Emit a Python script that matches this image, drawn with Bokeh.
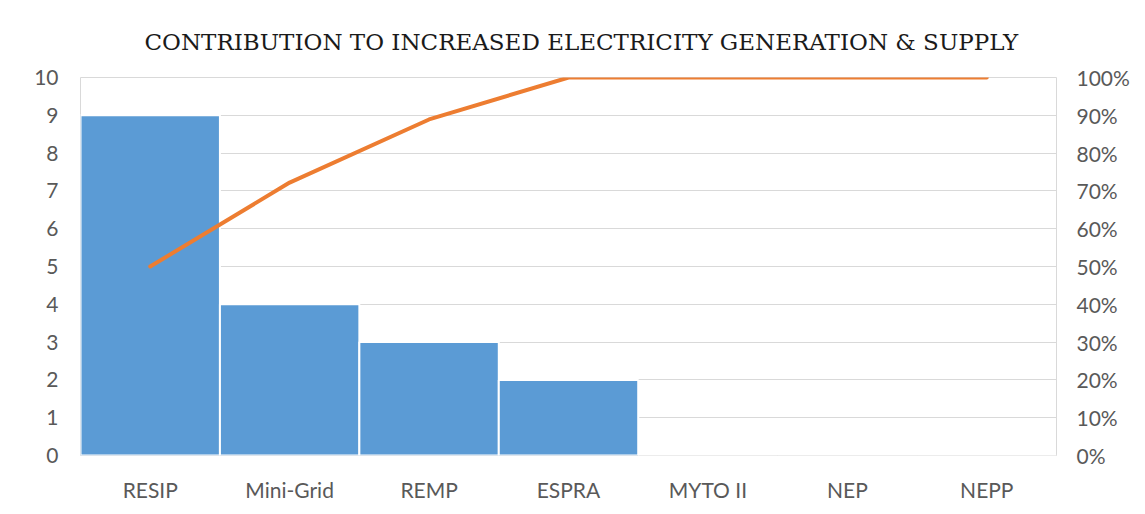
from bokeh.plotting import figure
from bokeh.models import Range1d, LinearAxis, FixedTicker, NumeralTickFormatter, ColumnDataSource
from bokeh.embed import file_html
from bokeh.resources import INLINE

categories = ["RESIP", "Mini-Grid", "REMP", "ESPRA", "MYTO II", "NEP", "NEPP"]
counts = [9, 4, 3, 2, 0, 0, 0]
cumulative_pct = [0.50, 0.722, 0.889, 1.0, 1.0, 1.0, 1.0]
left_ticks = [0, 1, 2, 3, 4, 5, 6, 7, 8, 9, 10]
right_ticks = [0, 0.1, 0.2, 0.3, 0.4, 0.5, 0.6, 0.7, 0.8, 0.9, 1.0]

src = ColumnDataSource(dict(cat=categories, cnt=counts, pct=cumulative_pct))

p = figure(width=1145, height=514, x_range=categories, y_range=Range1d(0, 10),
           output_backend="svg", toolbar_location=None,
           min_border_left=80, min_border_right=89, min_border_top=77, min_border_bottom=59)
p.extra_y_ranges = {"pct": Range1d(0, 1)}

p.title.text = "CONTRIBUTION TO INCREASED ELECTRICITY GENERATION & SUPPLY"
p.title.align = "left"
p.title.offset = 64
p.title.text_font = "DejaVu Serif"
p.title.text_font_size = "23px"
p.title.text_font_style = "normal"
p.title.text_color = "#1a1a1a"
p.title.standoff = 45

p.vbar(x="cat", top="cnt", width=1.0, source=src, fill_color="#5B9BD5",
       line_color="white", line_width=2)
p.line(x="cat", y="pct", source=src, y_range_name="pct", line_color="#ED7D31",
       line_width=4, line_cap="round")

p.outline_line_color = "#d9d9d9"
p.xgrid.grid_line_color = None
p.ygrid.grid_line_color = "#d9d9d9"
p.ygrid.ticker = FixedTicker(ticks=left_ticks)

p.yaxis.ticker = FixedTicker(ticks=left_ticks)
right = LinearAxis(y_range_name="pct", ticker=FixedTicker(ticks=right_ticks),
                   formatter=NumeralTickFormatter(format="0%"))
p.add_layout(right, "right")

for ax in [p.xaxis[0], p.yaxis[0], right]:
    ax.axis_line_color = None
    ax.major_tick_line_color = None
    ax.minor_tick_line_color = None
    ax.major_label_text_font = "Lato"
    ax.major_label_text_font_size = "21px"
    ax.major_label_text_color = "#595959"

p.xaxis.major_label_standoff = 15
p.yaxis[0].major_label_standoff = 16
right.major_label_standoff = 14

open("out.html", "w").write(file_html(p, INLINE))
